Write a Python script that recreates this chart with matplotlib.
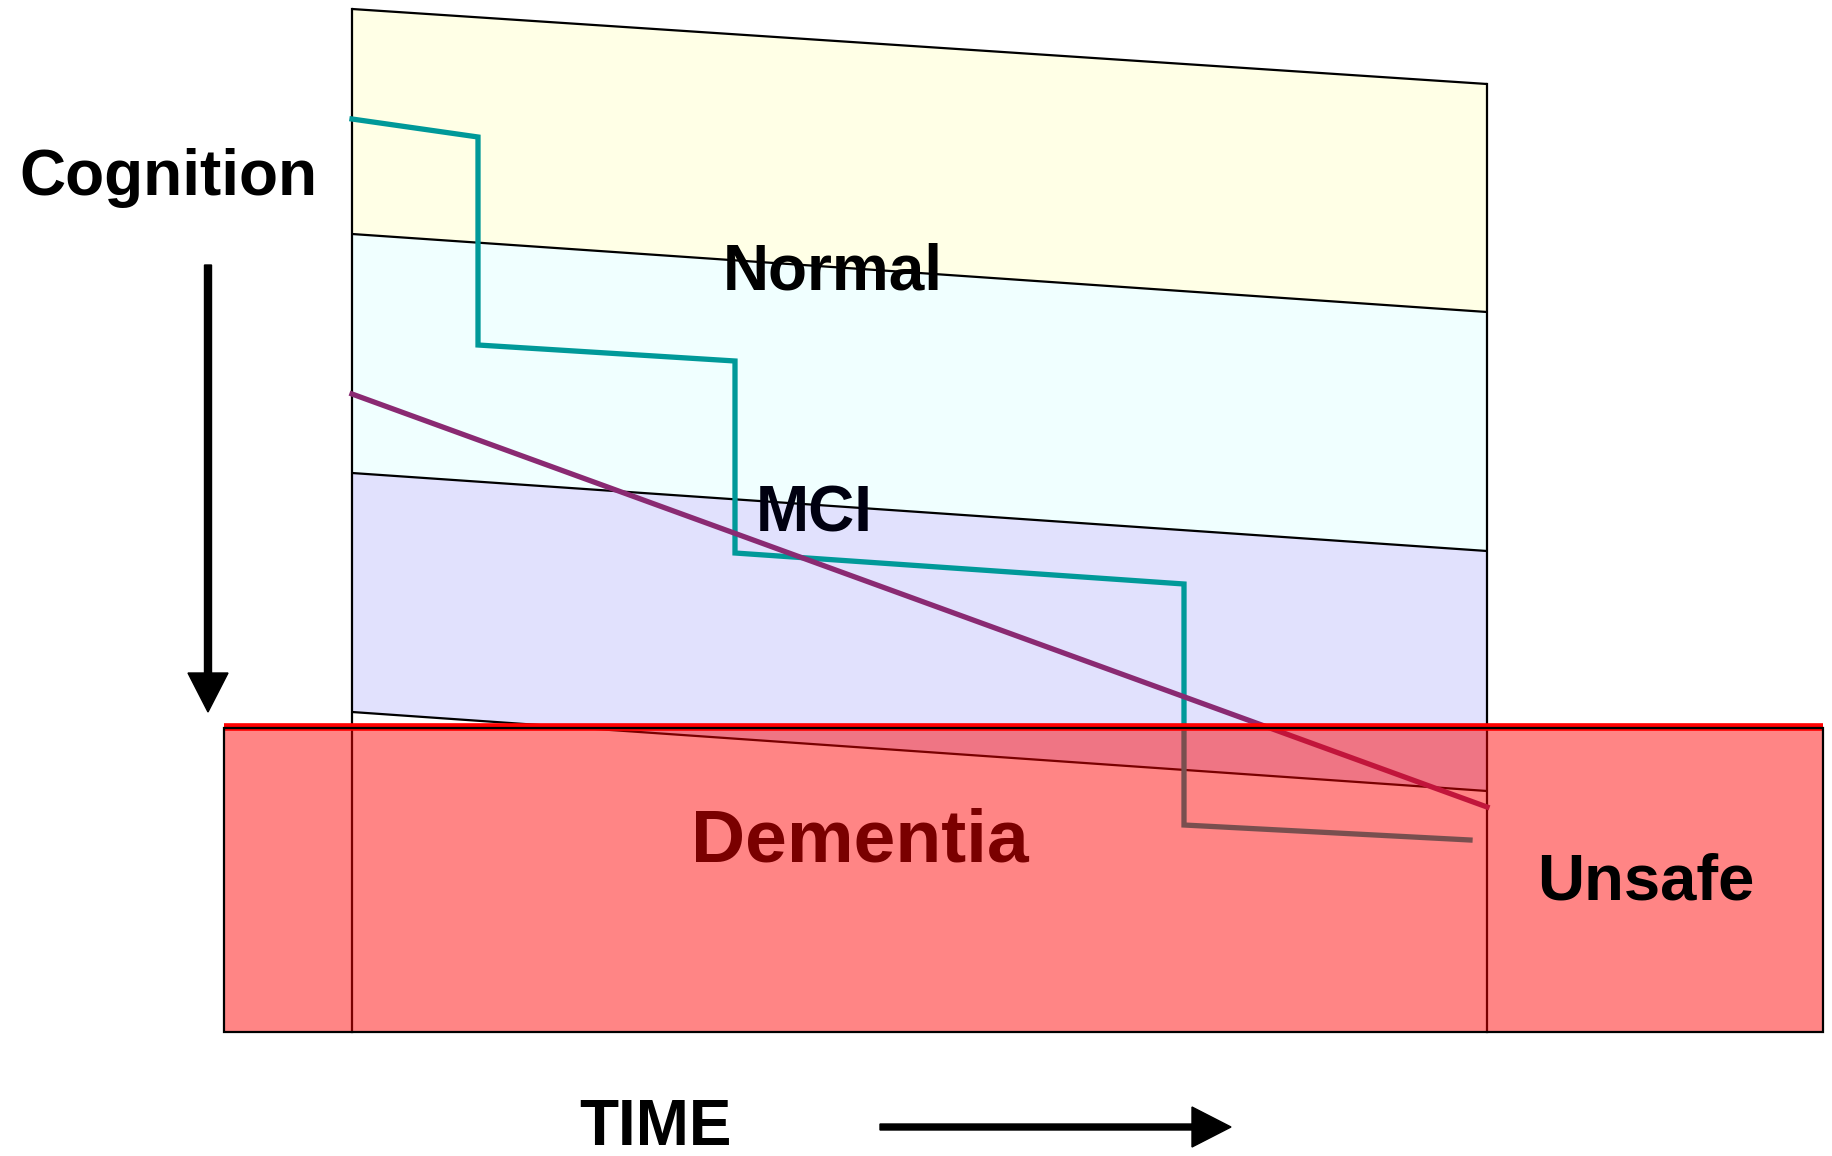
import matplotlib
matplotlib.use("Agg")
import matplotlib.pyplot as plt
from matplotlib.patches import Rectangle, FancyArrow

# ---- data (pixel-like diagram units: x = time, y = cognition, downward) ----
box_x = [352, 1487]                 # time span of the staged box
top_line = [9, 84]                  # top of "Normal" band (left, right)
normal_mci = [234, 312]             # Normal / MCI boundary
mci_lower = [473, 551]              # MCI / lower band boundary
lower_bottom = [712, 791]           # bottom of lavender band
box_bottom = 1032

teal_x = [352, 478, 478, 735, 735, 1184, 1184, 1470]
teal_y = [119, 137, 345, 361, 553, 584, 825, 840]

purple_x = [352, 1487]
purple_y = [394, 807]

dementia_x = [224, 1823]
dementia_y = [728, 1032]

labels = ["Normal", "MCI", "Dementia", "Unsafe"]

plt.rcParams['font.family'] = ['Liberation Sans', 'DejaVu Sans']

fig = plt.figure(figsize=(18.32, 11.56), dpi=100)
ax = fig.add_axes([0, 0, 1, 1])
ax.set_xlim(0, 1832)
ax.set_ylim(1156, 0)
ax.axis('off')

# bands
ax.fill_between(box_x, top_line, normal_mci, color='#FFFFE6', lw=0, zorder=1)
ax.fill_between(box_x, normal_mci, mci_lower, color='#F0FFFF', lw=0, zorder=1)
ax.fill_between(box_x, mci_lower, lower_bottom, color='#E1E1FD', lw=0, zorder=1)

# boundary lines
for b in (top_line, normal_mci, mci_lower, lower_bottom):
    ax.plot(box_x, b, color='black', lw=1.6, zorder=2, solid_capstyle='butt')
ax.plot([box_x[0], box_x[0]], [top_line[0], box_bottom], color='black', lw=1.6, zorder=2)
ax.plot([box_x[1], box_x[1]], [top_line[1], box_bottom], color='black', lw=1.6, zorder=2)

# trajectories
ax.plot(teal_x, teal_y, color='#009999', lw=3.8, zorder=3, solid_joinstyle='miter')
ax.plot(purple_x, purple_y, color='#8A2A72', lw=3.8, zorder=3)

# dementia overlay
ax.add_patch(Rectangle((dementia_x[0], dementia_y[0]), dementia_x[1] - dementia_x[0],
                       dementia_y[1] - dementia_y[0], facecolor=(1, 0, 0, 0.48),
                       edgecolor='none', zorder=5))
ax.plot(dementia_x, [dementia_y[0] - 1, dementia_y[0] - 1], color='red', lw=5.5, zorder=6,
        solid_capstyle='butt')
ax.add_patch(Rectangle((dementia_x[0], dementia_y[0]), dementia_x[1] - dementia_x[0],
                       dementia_y[1] - dementia_y[0], fill=False,
                       edgecolor='black', lw=1.6, zorder=7))

# labels
ax.text(833, 290, labels[0], fontsize=46, fontweight='bold', ha='center', va='baseline', zorder=8)
ax.text(814, 532, labels[1], fontsize=46, fontweight='bold', ha='center', va='baseline',
        color='#000010', zorder=8)
ax.text(860, 862, labels[2], fontsize=54, fontweight='bold', ha='center', va='baseline',
        color='#7A0000', zorder=8)
ax.text(1646, 900, labels[3], fontsize=47, fontweight='bold', ha='center', va='baseline', zorder=8)
ax.text(655, 1145, "TIME", fontsize=46, fontweight='bold', ha='center', va='baseline', zorder=8)
ax.text(168, 195, "Cognition", fontsize=46, fontweight='bold', ha='center', va='baseline', zorder=8)

# axis arrows
ax.add_patch(FancyArrow(208, 265, 0, 447, width=7, head_width=40, head_length=39,
                        length_includes_head=True, color='black', zorder=8))
ax.add_patch(FancyArrow(880, 1127, 351, 0, width=6, head_width=40, head_length=39,
                        length_includes_head=True, color='black', zorder=8))

fig.savefig('out.png', dpi=100, facecolor='white')
